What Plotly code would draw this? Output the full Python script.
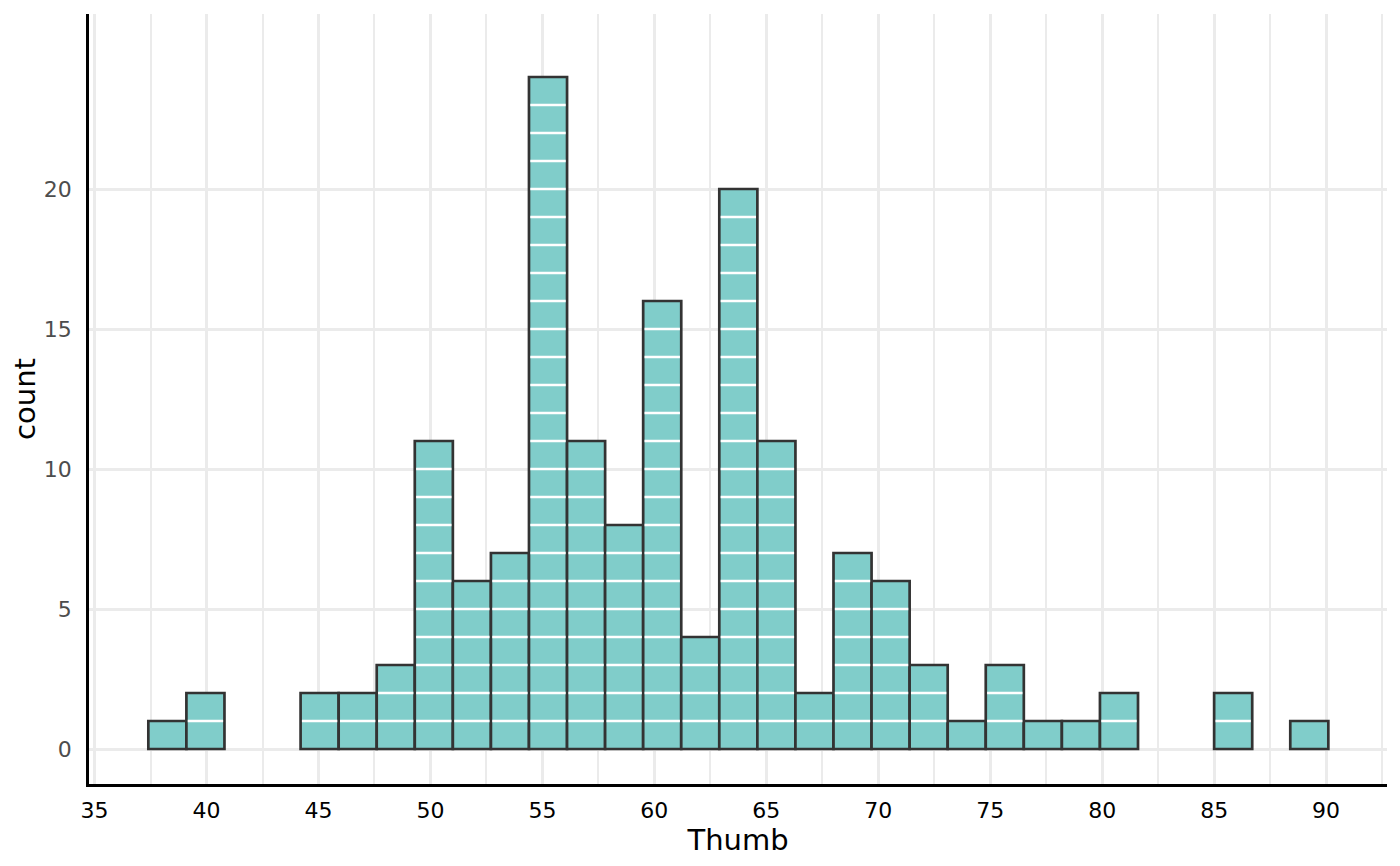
import plotly.graph_objects as go

# histogram of thumb measurements, 31 bins
bin_start = 37.4
bin_width = 1.7
counts = [1, 2, 0, 0, 2, 2, 3, 11, 6, 7, 24, 11, 8, 16, 4, 20,
          11, 2, 7, 6, 3, 1, 3, 1, 1, 2, 0, 0, 2, 0, 1]

x_ticks = [35, 40, 45, 50, 55, 60, 65, 70, 75, 80, 85, 90]
y_ticks = [0, 5, 10, 15, 20]

fill = "#80CDCA"
edge = "#333333"
grid = "#EBEBEB"

if __name__ == "__main__":

    centers = []
    heights = []
    for i, c in enumerate(counts):
        if c > 0:
            centers.append(bin_start + (i + 0.5) * bin_width)
            heights.append(c)

    # white separators at every unit inside each bar
    inset = 0.06
    seg_x = []
    seg_y = []
    for xc, h in zip(centers, heights):
        for k in range(1, h):
            seg_x += [xc - bin_width / 2 + inset, xc + bin_width / 2 - inset, None]
            seg_y += [k, k, None]

    fig = go.Figure()
    fig.add_trace(go.Bar(
        x=centers, y=heights, width=bin_width,
        marker=dict(color=fill, line=dict(color=edge, width=2.7)),
        hoverinfo="x+y",
    ))
    fig.add_trace(go.Scatter(
        x=seg_x, y=seg_y, mode="lines",
        line=dict(color="white", width=2.4),
        hoverinfo="skip",
    ))

    # the page body adds an 8px offset, so margins are shifted by that
    fig.update_layout(
        width=1400, height=866,
        margin=dict(l=81, r=21, t=6, b=90, autoexpand=False),
        paper_bgcolor="white", plot_bgcolor="white",
        showlegend=False,
        font=dict(family="DejaVu Sans", size=22, color="black"),
        xaxis=dict(
            range=[34.75, 92.72],
            tickvals=x_ticks,
            tickfont=dict(size=22, color="black"),
            ticklabelstandoff=5,
            showgrid=True, gridcolor=grid, gridwidth=2.5,
            minor=dict(dtick=2.5, tick0=35, showgrid=True, gridcolor=grid, gridwidth=1.5),
            showline=True, linecolor="black", linewidth=2.6,
            zeroline=False, ticks="",
            title=dict(text="Thumb", font=dict(size=29), standoff=2),
        ),
        yaxis=dict(
            range=[-1.25, 26.25],
            tickvals=y_ticks,
            tickfont=dict(size=22, color="#4D4D4D"),
            ticklabelstandoff=10,
            showgrid=True, gridcolor=grid, gridwidth=2.5,
            showline=True, linecolor="black", linewidth=2.6,
            zeroline=False, ticks="",
            title=dict(text="count", font=dict(size=29), standoff=10),
        ),
    )

    fig.write_html("out.html")
